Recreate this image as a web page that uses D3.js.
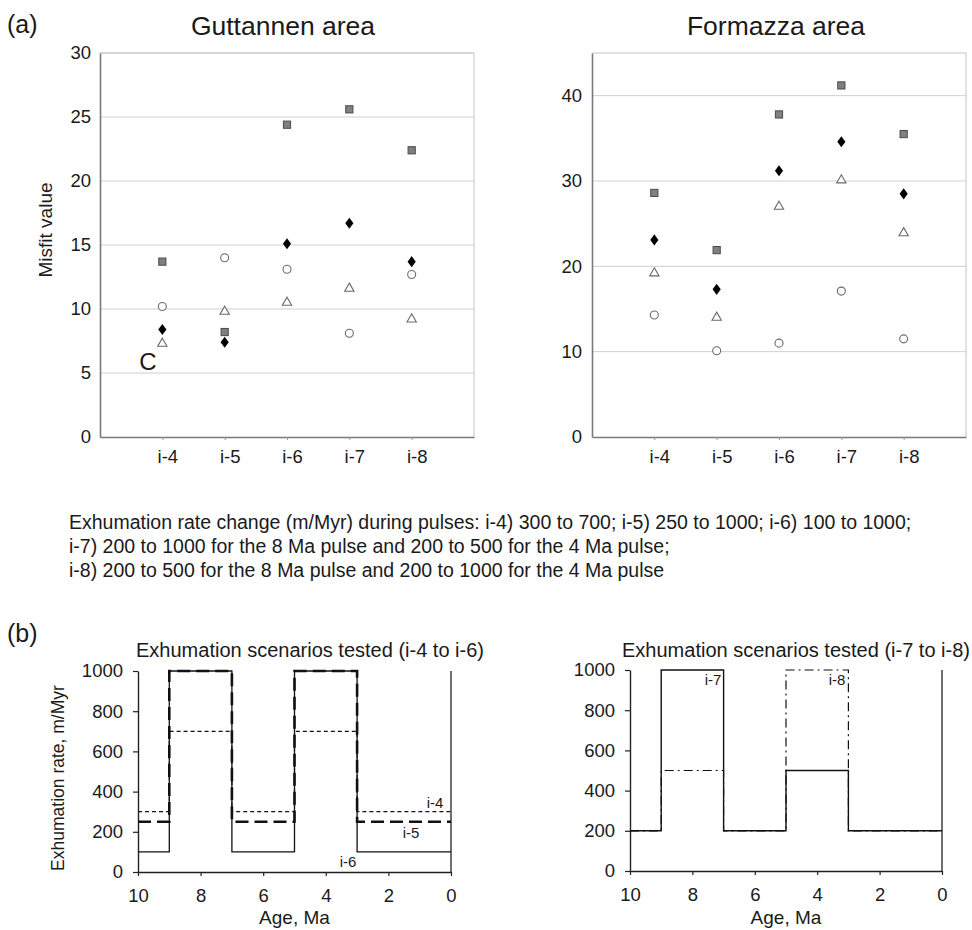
<!DOCTYPE html>
<html><head><meta charset="utf-8">
<script src="https://cdn.jsdelivr.net/npm/d3@7"></script>
<style>
body{margin:0;background:#fff;}
text{font-family:"Liberation Sans",Arial,sans-serif;fill:#1a1a1a;}
</style></head>
<body>
<svg id="c" width="972" height="930"></svg>
<script>
// ---- data ----
const categories = ["i-4","i-5","i-6","i-7","i-8"];
const guttSquare   = [13.7, 8.2, 24.4, 25.6, 22.4];
const guttDiamond  = [8.4, 7.4, 15.1, 16.7, 13.7];
const guttCircle   = [10.2, 14.0, 13.1, 8.1, 12.7];
const guttTriangle = [7.3, 9.8, 10.5, 11.6, 9.2];
const formSquare   = [28.6, 21.9, 37.8, 41.2, 35.5];
const formDiamond  = [23.1, 17.3, 31.2, 34.6, 28.5];
const formTriangle = [19.2, 14.0, 27.0, 30.1, 23.9];
const formCircle   = [14.3, 10.1, 11.0, 17.1, 11.5];
const guttTicks = [0,5,10,15,20,25,30];
const formTicks = [0,10,20,30,40];

const ageEdges = [10, 9, 7, 5, 3, 0];
const rateI4 = [300, 700, 300, 700, 300];
const rateI5 = [250, 1000, 250, 1000, 250];
const rateI6 = [100, 1000, 100, 1000, 100];
const rateI7 = [200, 1000, 200, 500, 200];
const rateI8 = [200, 500, 200, 1000, 200];
const rateTicks = [0,200,400,600,800,1000];
const ageTicks = [10,8,6,4,2,0];

const noteLines = [
 "Exhumation rate change (m/Myr) during pulses: i-4) 300 to 700; i-5) 250 to 1000; i-6) 100 to 1000;",
 "i-7) 200 to 1000 for the 8 Ma pulse and 200 to 500 for the 4 Ma pulse;",
 "i-8) 200 to 500 for the 8 Ma pulse and 200 to 1000 for the 4 Ma pulse"
];

const svg = d3.select("#c");

// ---- misfit panels ----
function misfitPanel(o){
  const g = svg.append("g");
  const x = d3.scalePoint().domain(categories).range([o.x0, o.x1]).padding(1);
  const y = d3.scaleLinear().domain([0, o.max]).range([o.y1, o.y0]);
  g.selectAll(".grid").data(o.ticks.filter(t=>t>0)).join("line")
    .attr("x1", o.x0).attr("x2", o.x1).attr("y1", d=>y(d)).attr("y2", d=>y(d))
    .attr("stroke", "#cfcfcf").attr("stroke-width", 1);
  g.append("line").attr("x1",o.x0).attr("x2",o.x1).attr("y1",y(o.max)).attr("y2",y(o.max)).attr("stroke","#c4c4c4");
  g.append("line").attr("x1",o.x1).attr("x2",o.x1).attr("y1",y(o.max)).attr("y2",y(0)).attr("stroke","#c4c4c4");
  const ya = g.append("g").attr("transform",`translate(${o.x0},0)`)
    .call(d3.axisLeft(y).tickValues(o.ticks).tickSize(0).tickPadding(o.pad));
  ya.select(".domain").attr("stroke","#7a7a7a").attr("stroke-width",1.6);
  ya.selectAll("text").style("font-size","18.5px").attr("fill","#1a1a1a").attr("font-family","Liberation Sans");
  const xa = g.append("g").attr("transform",`translate(0,${o.y1})`)
    .call(d3.axisBottom(x).tickSize(3).tickSizeOuter(0).tickPadding(10));
  xa.select(".domain").attr("stroke","#7a7a7a").attr("stroke-width",1.6);
  xa.selectAll(".tick line").attr("stroke","#999");
  xa.selectAll("text").style("font-size","18.5px").attr("fill","#1a1a1a").attr("font-family","Liberation Sans").attr("dx","5");
  const pts = (arr)=>arr.map((v,i)=>({c:categories[i], v}));
  g.selectAll(".sq").data(pts(o.square)).join("rect")
    .attr("x", d=>x(d.c)-3.6).attr("y", d=>y(d.v)-3.6).attr("width",7.2).attr("height",7.2)
    .attr("fill","#808080").attr("stroke","#4a4a4a").attr("stroke-width",1);
  g.selectAll(".dm").data(pts(o.diamond)).join("path")
    .attr("d", d3.symbol(d3.symbolDiamond, 40)())
    .attr("transform", d=>`translate(${x(d.c)},${y(d.v)}) scale(1.2,0.95)`)
    .attr("fill","#000");
  g.selectAll(".ci").data(pts(o.circle)).join("circle")
    .attr("cx", d=>x(d.c)).attr("cy", d=>y(d.v)).attr("r",4)
    .attr("fill","#fff").attr("stroke","#6a6a6a").attr("stroke-width",1.1);
  g.selectAll(".tr").data(pts(o.triangle)).join("path")
    .attr("d", d3.symbol(d3.symbolTriangle, 38)())
    .attr("transform", d=>`translate(${x(d.c)},${y(d.v)})`)
    .attr("fill","#fff").attr("stroke","#6a6a6a").attr("stroke-width",1.1);
  g.append("text").attr("x",o.tx).attr("y",35).attr("text-anchor","middle")
    .style("font-size","26.5px").text(o.title);
  return {g,x,y};
}

misfitPanel({x0:100,x1:474,y0:53,y1:437,max:30,ticks:guttTicks,pad:9,
  square:guttSquare,diamond:guttDiamond,circle:guttCircle,triangle:guttTriangle,
  title:"Guttannen area",tx:283});
misfitPanel({x0:592,x1:966,y0:53,y1:437,max:45,ticks:formTicks,pad:10,
  square:formSquare,diamond:formDiamond,circle:formCircle,triangle:formTriangle,
  title:"Formazza area",tx:776});

svg.append("text").attr("x",45).attr("y",230).attr("transform","rotate(-90,45,230)")
  .attr("text-anchor","middle").attr("dy","0.35em").style("font-size","19px").text("Misfit value");
svg.append("text").attr("x",148).attr("y",370).attr("text-anchor","middle")
  .style("font-size","24px").text("C");
svg.append("text").attr("x",7).attr("y",33).style("font-size","25px").text("(a)");

// ---- note ----
svg.append("g").selectAll("text").data(noteLines).join("text")
  .attr("x",69).attr("y",(d,i)=>529+i*23.8).style("font-size","19.5px").text(d=>d);

// ---- exhumation panels ----
svg.append("text").attr("x",7).attr("y",642).style("font-size","25px").text("(b)");

function ratePanel(o){
  const g = svg.append("g");
  const x = d3.scaleLinear().domain([10,0]).range([o.x0,o.x1]);
  const y = d3.scaleLinear().domain([0,1000]).range([o.y1,o.y0]);
  const ya = g.append("g").attr("transform",`translate(${o.x0},0)`)
    .call(d3.axisLeft(y).tickValues(rateTicks).tickFormat(d3.format("d")).tickSize(5).tickSizeOuter(0).tickPadding(10));
  const xa = g.append("g").attr("transform",`translate(0,${o.y1})`)
    .call(d3.axisBottom(x).tickValues(ageTicks).tickFormat(d3.format("d")).tickSize(4).tickSizeOuter(0).tickPadding(13));
  [ya,xa].forEach(a=>{
    a.select(".domain").attr("stroke","#222").attr("stroke-width",1.4);
    a.selectAll(".tick line").attr("stroke","#222").attr("stroke-width",1.2);
    a.selectAll("text").style("font-size","18.5px").attr("fill","#1a1a1a").attr("font-family","Liberation Sans");
  });
  g.append("line").attr("x1",x(0)).attr("x2",x(0)).attr("y1",y(0)).attr("y2",y(1000))
    .attr("stroke","#222").attr("stroke-width",1.3);
  const line = d3.line().x(d=>x(d[0])).y(d=>y(d[1])).curve(d3.curveStepAfter);
  const pts = arr => ageEdges.map((a,i)=>[a, arr[Math.min(i,arr.length-1)]]);
  o.series.forEach(s=>{
    g.append("path").datum(pts(s.values)).attr("d",line).attr("fill","none")
      .attr("stroke","#111").attr("stroke-width",s.w).attr("stroke-dasharray",s.dash||null);
  });
  g.append("text").attr("x",o.tx).attr("y",657).attr("text-anchor","middle")
    .style("font-size","20px").text(o.title);
  g.append("text").attr("x",(o.x0+o.x1)/2).attr("y",924).attr("text-anchor","middle")
    .style("font-size","19px").text("Age, Ma");
  o.labels.forEach(l=>{
    g.append("text").attr("x",l.x).attr("y",l.y).attr("dy","0.35em").attr("text-anchor","middle")
      .style("font-size","15px").text(l.t);
  });
  return {x,y};
}

ratePanel({x0:138,x1:451,y0:671,y1:872,title:"Exhumation scenarios tested (i-4 to i-6)",tx:310,
  series:[
    {values:rateI6,w:1.3},
    {values:rateI4,w:1.2,dash:"4,3"},
    {values:rateI5,w:2.6,dash:"13,6"}
  ],
  labels:[{x:435,y:803,t:"i-4"},{x:411,y:833,t:"i-5"},{x:348,y:862,t:"i-6"}]});

ratePanel({x0:630,x1:942,y0:670,y1:871,title:"Exhumation scenarios tested (i-7 to i-8)",tx:796,
  series:[
    {values:rateI8,w:1.2,dash:"9,4,2,4"},
    {values:rateI7,w:1.4}
  ],
  labels:[{x:713,y:680,t:"i-7"},{x:837,y:680,t:"i-8"}]});

svg.append("text").attr("x",58).attr("y",778).attr("transform","rotate(-90,58,778)")
  .attr("text-anchor","middle").attr("dy","0.35em").style("font-size","17.5px").text("Exhumation rate, m/Myr");
</script>
</body></html>
